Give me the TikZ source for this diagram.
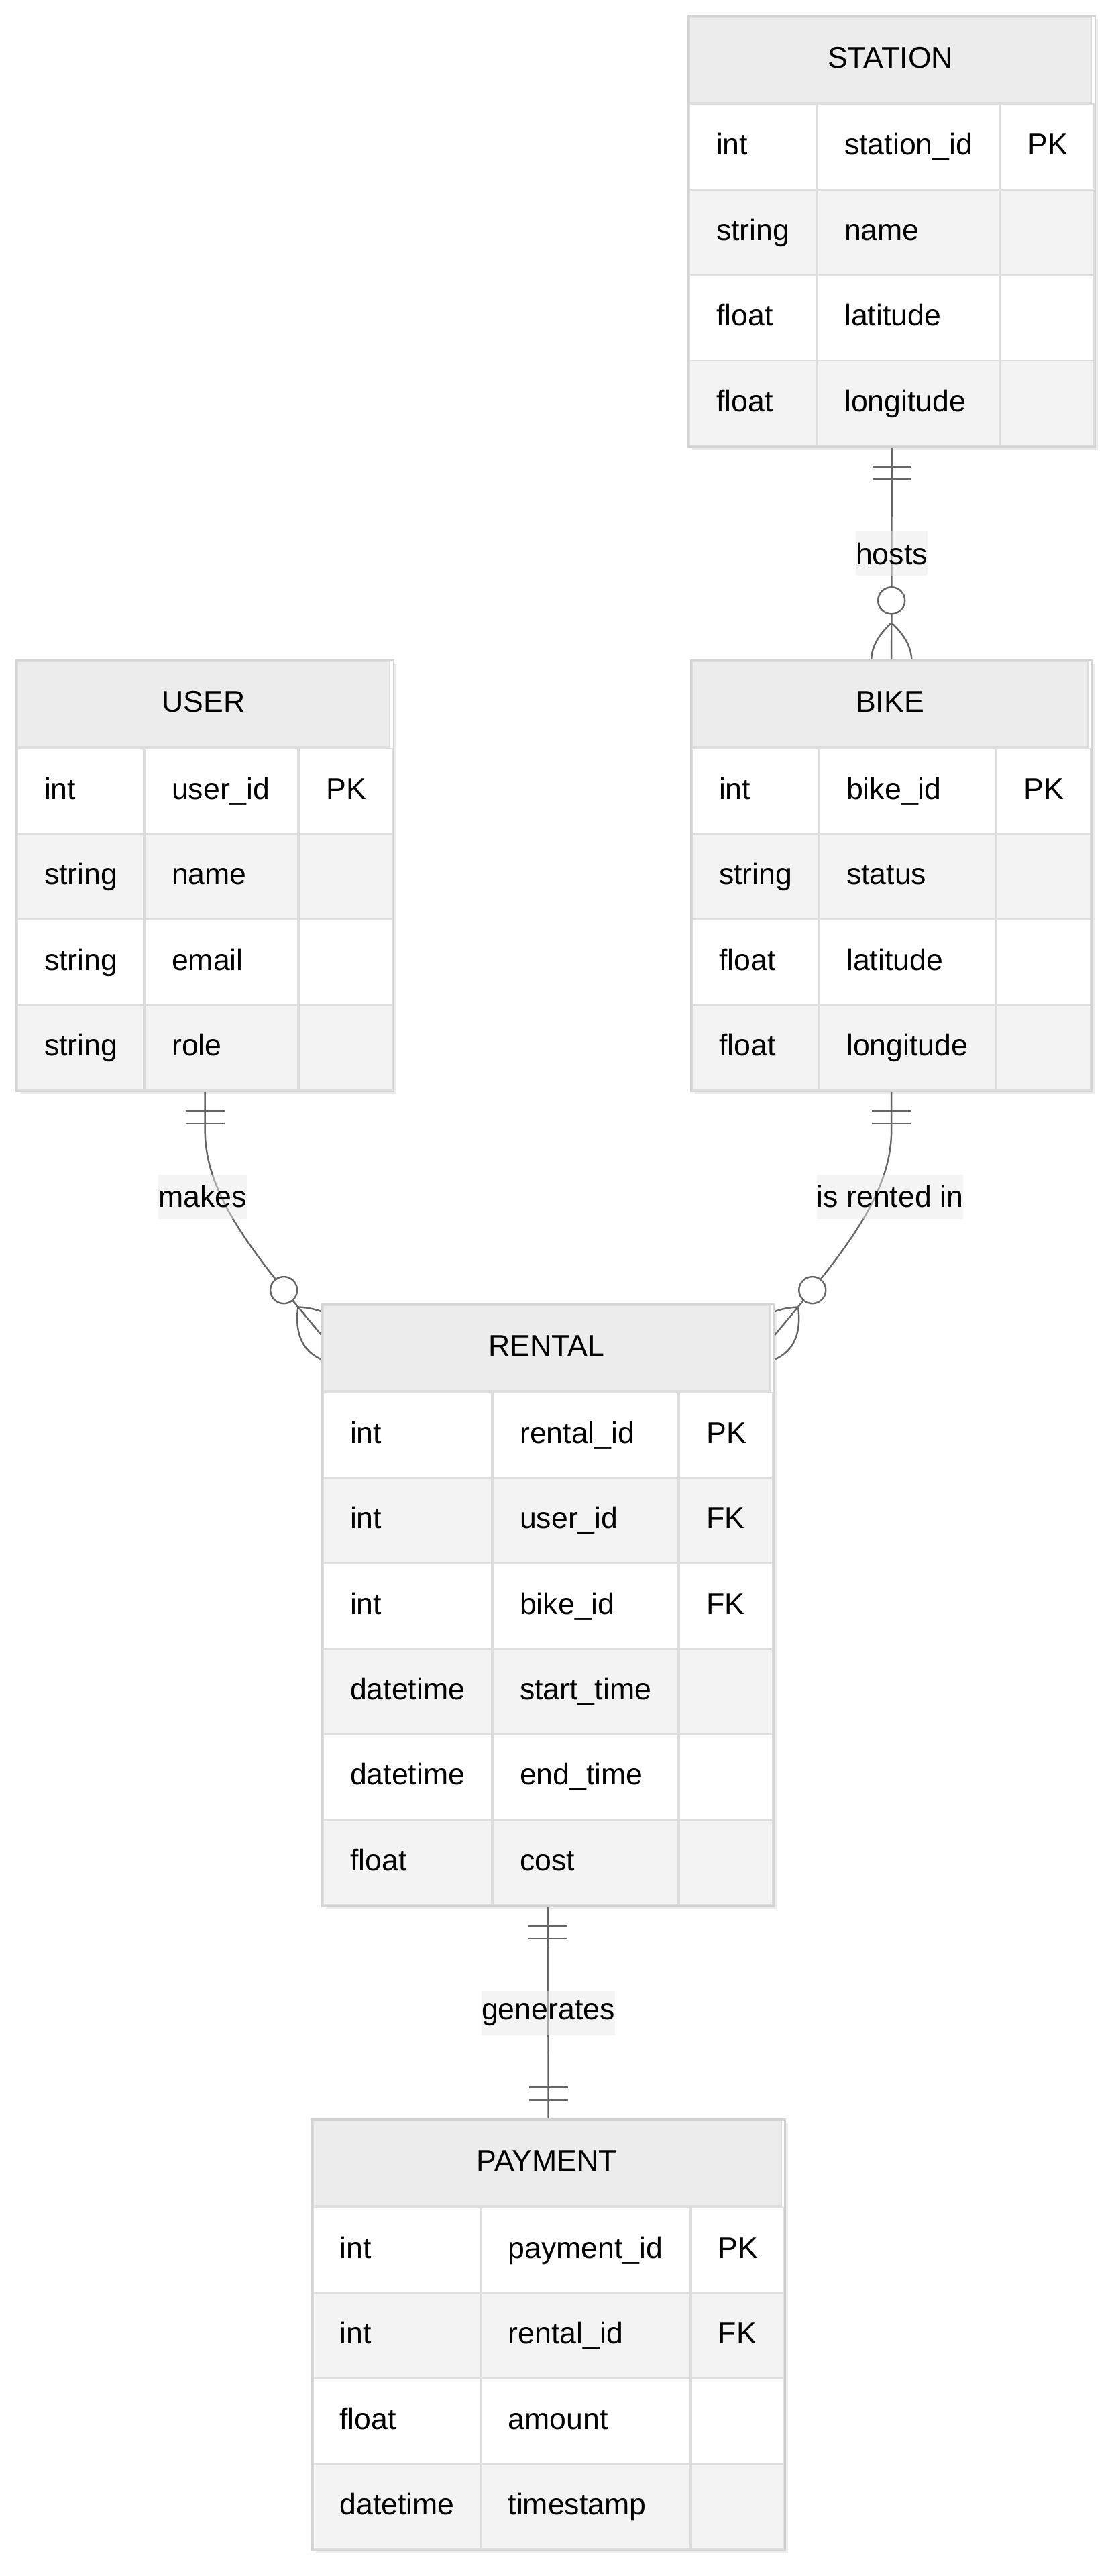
\documentclass[tikz,border=0pt]{standalone}
\usepackage{fontspec}
\setmainfont{Liberation Sans}
\usetikzlibrary{positioning,fit,shadows}
\definecolor{hdrgray}{HTML}{ECECEC}
\definecolor{rowgray}{HTML}{F3F3F3}
\definecolor{cellline}{HTML}{DDDDDD}
\definecolor{framegray}{HTML}{D3D3D3}
\definecolor{linkgray}{HTML}{666666}
\definecolor{lblgray}{HTML}{E9E9E9}
\pgfdeclarelayer{edges}
\pgfdeclarelayer{background}
\pgfsetlayers{edges,background,main}
\newcommand{\rowh}{1.274cm}
% table: name, top-left corner, title, three column widths, rows
\newcommand{\entity}[7]{%
  \pgfmathsetlengthmacro\tblw{#4+#5+#6}%
  \pgfmathsetlengthmacro\twa{#4-0.8cm}%
  \pgfmathsetlengthmacro\twb{#5-0.8cm}%
  \pgfmathsetlengthmacro\twc{#6-0.8cm}%
  \node[hdr, minimum width=\tblw, anchor=north west] (#1) at (#2) {#3};
  \foreach \ty/\nm/\ky [count=\i] in {#7} {
    \ifodd\i \def\rowfill{white}\else\def\rowfill{rowgray}\fi
    \node[cell, fill=\rowfill, text width=\twa, anchor=north west] (#1-t\i) at ([yshift={-(\i-1)*\rowh}]#1.south west) {\ty};
    \node[cell, fill=\rowfill, text width=\twb, right=0pt of #1-t\i] (#1-n\i) {\nm};
    \node[cell, fill=\rowfill, text width=\twc, right=0pt of #1-n\i] (#1-k\i) {\ky};
    \coordinate (#1-end) at (#1-k\i.south east);
  }
  \begin{pgfonlayer}{background}
    \node[shadowbox, fit=(#1.north west)(#1-end)] (#1Box) {};
  \end{pgfonlayer}
  \draw[frame] (#1Box.north west) rectangle (#1Box.south east);
}
\tikzset{
  link/.style={draw=linkgray, line width=0.7pt},
  onemark/.pic={\draw[link] (0.29,-0.29) -- (0.29,0.29) (0.48,-0.29) -- (0.48,0.29);},
  manymark/.pic={\draw[link, fill=white] (0.89,0) circle (0.2);
    \draw[link] (0.56,0) .. controls (0.19,0.4) and (-0.19,0.4) .. (-0.56,0) .. controls (-0.19,-0.4) and (0.19,-0.4) .. (0.56,0);}
}

\begin{document}
\begin{tikzpicture}[font=\fontsize{12.7}{15}\selectfont,
  hdr/.style={draw=cellline, line width=0.6pt, fill=hdrgray, minimum height=\rowh, inner sep=0pt, text height=1.6ex, text depth=0.3ex},
  cell/.style={draw=cellline, line width=0.6pt, minimum height=\rowh, inner xsep=0.4cm, inner ysep=0pt, align=left, text height=1.6ex, text depth=0.3ex},
  frame/.style={draw=framegray, line width=0.8pt},
  shadowbox/.style={fill=white, inner sep=0pt, drop shadow={shadow xshift=0.05cm, shadow yshift=-0.05cm, opacity=0.15}},
  lbl/.style={fill=lblgray, fill opacity=0.5, text opacity=1, inner xsep=0pt, inner ysep=0pt, minimum height=0.66cm}]
\useasboundingbox (0,0) rectangle (16.61,-38.40);

\entity{station}{10.27,-0.245}{STATION}{1.89cm}{2.71cm}{1.39cm}{int/station\_id/PK, string/name/{}, float/latitude/{}, float/longitude/{}}
\entity{bike}{10.31,-9.85}{BIKE}{1.88cm}{2.62cm}{1.40cm}{int/bike\_id/PK, string/status/{}, float/latitude/{}, float/longitude/{}}
\entity{user}{0.25,-9.85}{USER}{1.88cm}{2.28cm}{1.39cm}{int/user\_id/PK, string/name/{}, string/email/{}, string/role/{}}
\entity{rental}{4.81,-19.45}{RENTAL}{2.51cm}{2.76cm}{1.39cm}{int/rental\_id/PK, int/user\_id/FK, int/bike\_id/FK, datetime/start\_time/{}, datetime/end\_time/{}, float/cost/{}}
\entity{payment}{4.655,-31.60}{PAYMENT}{2.49cm}{3.11cm}{1.38cm}{int/payment\_id/PK, int/rental\_id/FK, float/amount/{}, datetime/timestamp/{}}

\begin{pgfonlayer}{edges}
% station -> bike
\draw[link] (stationBox.south) -- node[lbl] (hostsLbl) {hosts} (bikeBox.north);
\pic[rotate=-90] at (stationBox.south) {onemark};
\pic[rotate=90] at (bikeBox.north) {manymark};
% user -> rental
\coordinate (makesEnd) at ([yshift=-4.7mm]rentalBox.north west);
\draw[link] (userBox.south) -- ++(0,-0.58) .. controls +(0,-1) and +(-0.96,1.15) .. (makesEnd);
\node[lbl] (makesLbl) at (3.02,-17.84) {makes};
\pic[rotate=-90] at (userBox.south) {onemark};
\pic[rotate=130] at (makesEnd) {manymark};
% bike -> rental
\coordinate (rentedEnd) at ([yshift=-4.7mm]rentalBox.north east);
\draw[link] (bikeBox.south) -- ++(0,-0.58) .. controls +(0,-1) and +(0.96,1.15) .. (rentedEnd);
\node[lbl] (rentedLbl) at (13.27,-17.84) {is rented in};
\pic[rotate=-90] at (bikeBox.south) {onemark};
\pic[rotate=50] at (rentedEnd) {manymark};
% rental -> payment
\draw[link] (rentalBox.south) -- node[lbl] (genLbl) {generates} (paymentBox.north);
\pic[rotate=-90] at (rentalBox.south) {onemark};
\pic[rotate=90] at (paymentBox.north) {onemark};
\end{pgfonlayer}
\end{tikzpicture}
\end{document}
